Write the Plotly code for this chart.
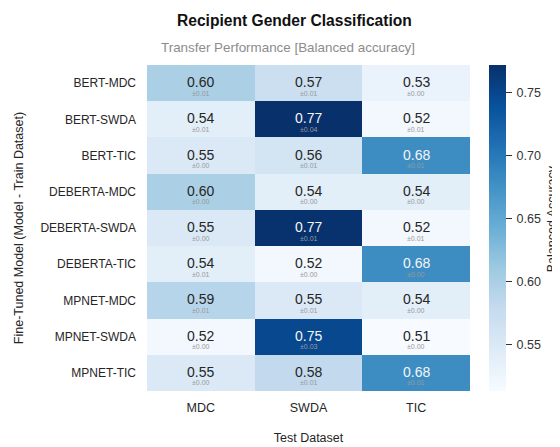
import plotly.graph_objects as go

models = ["BERT-MDC", "BERT-SWDA", "BERT-TIC", "DEBERTA-MDC", "DEBERTA-SWDA",
          "DEBERTA-TIC", "MPNET-MDC", "MPNET-SWDA", "MPNET-TIC"]
test_sets = ["MDC", "SWDA", "TIC"]

acc_mdc = [0.600, 0.540, 0.550, 0.600, 0.550, 0.540, 0.590, 0.520, 0.550]
acc_swda = [0.570, 0.772, 0.560, 0.540, 0.770, 0.520, 0.550, 0.748, 0.580]
acc_tic = [0.530, 0.520, 0.680, 0.540, 0.520, 0.680, 0.540, 0.513, 0.680]

std_mdc = [0.01, 0.01, 0.00, 0.00, 0.00, 0.01, 0.01, 0.00, 0.00]
std_swda = [0.01, 0.04, 0.01, 0.00, 0.01, 0.00, 0.01, 0.03, 0.01]
std_tic = [0.00, 0.01, 0.01, 0.00, 0.01, 0.00, 0.00, 0.00, 0.01]

colorbar_ticks = [0.55, 0.60, 0.65, 0.70, 0.75]

FONT = "Liberation Sans, Arial, sans-serif"
blues = ["#f7fbff", "#deebf7", "#c6dbef", "#9ecae1", "#6baed6",
         "#4292c6", "#2171b5", "#08519c", "#08306b"]
cscale = [[i / (len(blues) - 1), c] for i, c in enumerate(blues)]

z = [[acc_mdc[i], acc_swda[i], acc_tic[i]] for i in range(len(models))]
stds = [[std_mdc[i], std_swda[i], std_tic[i]] for i in range(len(models))]
zmin = min(min(r) for r in z)
zmax = max(max(r) for r in z)

fig = go.Figure(go.Heatmap(
    z=z, x=test_sets, y=models, colorscale=cscale, zmin=zmin, zmax=zmax,
    xgap=0, ygap=0, hoverinfo="skip",
    colorbar=dict(
        x=1.059, xanchor="left", xref="paper", y=0.5, yanchor="middle",
        len=1.0, lenmode="fraction", thickness=17, outlinewidth=0, ypad=0, xpad=0,
        tickvals=colorbar_ticks, ticktext=["\u2009" + f"{v:.2f}" for v in colorbar_ticks],
        ticks="outside", ticklen=6, tickwidth=1, tickcolor="#333",
        tickfont=dict(family=FONT, size=12.5, color="#333"),
    ),
))

annotations = []
thr = zmin + 0.55 * (zmax - zmin)
for i, m in enumerate(models):
    for j, t in enumerate(test_sets):
        v = z[i][j]
        col = "#f5f5f5" if v > thr else "#262626"
        annotations.append(dict(x=t, y=m, xref="x", yref="y", text=f"{v:.2f}",
                                showarrow=False, yshift=1,
                                font=dict(family=FONT, size=14, color=col)))
        annotations.append(dict(x=t, y=m, xref="x", yref="y", text=f"±{stds[i][j]:.2f}",
                                showarrow=False, yshift=-10,
                                font=dict(family=FONT, size=7, color="#999999")))

annotations.append(dict(x=0.458, y=1.0, xref="paper", yref="paper", yanchor="middle",
                        yshift=45, text="<b>Recipient Gender Classification</b>",
                        showarrow=False, font=dict(family=FONT, size=15.6, color="#111")))
annotations.append(dict(x=0.437, y=1.0, xref="paper", yref="paper", yanchor="middle",
                        yshift=18, text="Transfer Performance [Balanced accuracy]",
                        showarrow=False, font=dict(family=FONT, size=13.4, color="#8c8c8c")))
annotations.append(dict(x=1.252, y=0.528, xref="paper", yref="paper",
                        xanchor="center", yanchor="middle", textangle=-90,
                        text="Balanced Accuracy", showarrow=False,
                        font=dict(family=FONT, size=12.5, color="#262626")))

fig.update_layout(
    width=552, height=439,
    margin=dict(l=139, r=90, t=57, b=56, autoexpand=False),
    paper_bgcolor="white", plot_bgcolor="white",
    font=dict(family=FONT, size=12, color="#333"),
    annotations=annotations,
    xaxis=dict(showgrid=False, zeroline=False, showline=False, ticks="", automargin=False,
               tickfont=dict(family=FONT, size=12.5, color="#262626"),
               ticklabelstandoff=7,
               title=dict(text="Test Dataset", standoff=19,
                          font=dict(family=FONT, size=12.5, color="#262626"))),
    yaxis=dict(showgrid=False, zeroline=False, showline=False, ticks="", automargin=False,
               autorange="reversed",
               tickfont=dict(family=FONT, size=12, color="#262626"),
               ticklabelstandoff=10,
               title=dict(text="Fine-Tuned Model (Model - Train Dataset)", standoff=14,
                          font=dict(family=FONT, size=12.5, color="#262626"))),
)

fig.write_html("out.html")
